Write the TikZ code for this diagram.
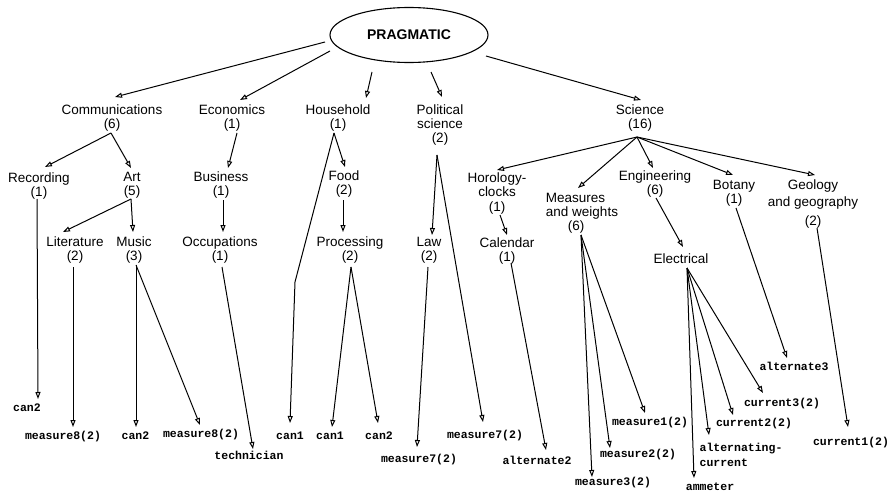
\documentclass[tikz,border=0pt]{standalone}
\usepackage{fontspec}
\setmainfont{Liberation Sans}
\setmonofont{Liberation Mono}
\usetikzlibrary{arrows.meta,shapes.geometric}
\tikzset{
  lbl/.style={font=\fontsize{13.5}{14}\selectfont, align=center, inner sep=1pt},
  leaf/.style={font=\fontsize{11.5}{14}\selectfont\ttfamily\bfseries, inner sep=1pt, text height=7pt, text depth=1.5pt},
  arr/.style={line width=1pt, -{Triangle[open,length=7pt,width=5pt]}},
}
\begin{document}
\begin{tikzpicture}[x=1pt,y=-1pt]
\fill[white] (0,0) rectangle (889,495);
\useasboundingbox (0,0) rectangle (889,495);
% root
\node[ellipse, draw, line width=1.1pt, minimum width=158pt, minimum height=55pt, inner sep=0pt,
      font=\fontsize{14}{16}\selectfont\bfseries] (prag) at (409,35) {PRAGMATIC};
% level 1
\node[lbl] (comm)  at (112,118) {Communications\\(6)};
\node[lbl] (econ)  at (232,118) {Economics\\(1)};
\node[lbl] (house) at (338,118) {Household\\(1)};
\node[lbl] (pol)   at (440,125) {Political\\science\\(2)};
\node[lbl] (sci)   at (640,118) {Science\\(16)};
% level 2
\node[lbl] (rec)  at (39,186)  {Recording\\(1)};
\node[lbl] (art)  at (132,185) {Art\\(5)};
\node[lbl] (bus)  at (221,185) {Business\\(1)};
\node[lbl] (food) at (344,184) {Food\\(2)};
\node[lbl] (horo) at (497,194) {Horology-\\clocks\\[1pt](1)};
\node[lbl, align=left] (meas) at (582,213) {Measures\\and weights\\\hspace*{22pt}(6)};
\node[lbl] (eng)  at (655,184) {Engineering\\(6)};
\node[lbl] (bot)  at (734,193) {Botany\\(1)};
\node[lbl] (geo)  at (813,204) {Geology\\[3pt]and geography\\[5pt](2)};
% level 3
\node[lbl] (lit)  at (75,250)  {Literature\\(2)};
\node[lbl] (mus)  at (134,250) {Music\\(3)};
\node[lbl] (occ)  at (220,250) {Occupations\\(1)};
\node[lbl] (proc) at (350,250) {Processing\\(2)};
\node[lbl] (law)  at (429,250) {Law\\(2)};
\node[lbl] (cal)  at (507,251) {Calendar\\(1)};
\node[lbl] (elec) at (681,259) {Electrical};
% leaves
\node[leaf] (rcan2)  at (27,409)  {can2};
\node[leaf] (lm8)    at (63,437)  {measure8(2)};
\node[leaf] (mcan2)  at (135.5,437) {can2};
\node[leaf] (mm8)    at (201,435) {measure8(2)};
\node[leaf] (tech)   at (249,457) {technician};
\node[leaf] (hcan1)  at (290,437) {can1};
\node[leaf] (pcan1)  at (330,437) {can1};
\node[leaf] (pcan2)  at (379,437) {can2};
\node[leaf] (lm7)    at (419,460) {measure7(2)};
\node[leaf] (pm7)    at (485,436) {measure7(2)};
\node[leaf] (alt2)   at (537,462) {alternate2};
\node[leaf] (m3)     at (613,483) {measure3(2)};
\node[leaf] (m2)     at (638,455) {measure2(2)};
\node[leaf] (m1)     at (650,423) {measure1(2)};
\node[leaf] (amm)    at (710,488) {ammeter};
\node[font=\fontsize{11.5}{14.5}\selectfont\ttfamily\bfseries, inner sep=1pt, align=left] (ac) at (741,455) {alternating-\\current};
\node[leaf] (c2)     at (754,424) {current2(2)};
\node[leaf] (c3)     at (782,404) {current3(2)};
\node[leaf] (alt3)   at (794,368) {alternate3};
\node[leaf] (c1)     at (851,443) {current1(2)};
\coordinate (hk) at (295,282);
% edges from root
\draw[arr] ([shift={(-84,7)}]prag.center) -- ([shift={(3,-21)}]comm.center);
\draw[arr] ([shift={(-79,16)}]prag.center) -- ([shift={(8,-18)}]econ.center);
\draw[arr] ([shift={(-37,37)}]prag.center) -- ([shift={(28,-20)}]house.center);
\draw[arr] ([shift={(22,37)}]prag.center) -- ([shift={(2,-28)}]pol.center);
\draw[arr] ([shift={(77,21)}]prag.center) -- ([shift={(1,-18)}]sci.center);
% communications
\draw[arr] ([shift={(-1,15)}]comm.center) -- ([shift={(6,-19)}]rec.center);
\draw[arr] ([shift={(-1,15)}]comm.center) -- ([shift={(-1,-17)}]art.center);
\draw[arr] ([shift={(-1,14)}]art.center) -- ([shift={(-12,-18)}]lit.center);
\draw[arr] ([shift={(-1,14)}]art.center) -- ([shift={(-1,-18)}]mus.center);
\draw[arr] ([shift={(-2,13)}]rec.center) -- ([shift={(11,-10)}]rcan2.center);
\draw[arr] ([shift={(-2,17)}]lit.center) -- ([shift={(10,-10)}]lm8.center);
\draw[arr] ([shift={(2,15)}]mus.center) -- ([shift={(0.5,-10)}]mcan2.center);
\draw[arr] ([shift={(2,15)}]mus.center) -- ([shift={(-1,-10)}]mm8.center);
% economics
\draw[arr] ([shift={(5,15)}]econ.center) -- ([shift={(7,-17)}]bus.center);
\draw[arr] ([shift={(2,15)}]bus.center) -- ([shift={(3,-18)}]occ.center);
\draw[arr] ([shift={(2,17)}]occ.center) -- ([shift={(4,-8)}]tech.center);
% household
\draw[arr] ([shift={(-4,15)}]house.center) -- ([shift={(1,-17)}]food.center);
\draw[arr] ([shift={(-4,15)}]house.center) -- (hk) -- ([shift={(0,-14)}]hcan1.center);
\draw[arr] ([shift={(-1,16)}]food.center) -- ([shift={(-7,-18)}]proc.center);
\draw[arr] ([shift={(1,17)}]proc.center) -- ([shift={(2,-10)}]pcan1.center);
\draw[arr] ([shift={(1,17)}]proc.center) -- ([shift={(-1,-14)}]pcan2.center);
% political science
\draw[arr] ([shift={(-3,30)}]pol.center) -- ([shift={(3,-15)}]law.center);
\draw[arr] ([shift={(-3,30)}]pol.center) -- ([shift={(-2,-14)}]pm7.center);
\draw[arr] ([shift={(-1,17)}]law.center) -- ([shift={(-2,-13)}]lm7.center);
% science
\draw[arr] ([shift={(-3,19)}]sci.center) -- ([shift={(0,-24)}]horo.center);
\draw[arr] ([shift={(-3,19)}]sci.center) -- ([shift={(-4,-25)}]meas.center);
\draw[arr] ([shift={(-3,19)}]sci.center) -- ([shift={(-2,-16)}]eng.center);
\draw[arr] ([shift={(-3,19)}]sci.center) -- ([shift={(-1,-18)}]bot.center);
\draw[arr] ([shift={(-3,19)}]sci.center) -- ([shift={(2,-29)}]geo.center);
\draw[arr] ([shift={(3,21)}]horo.center) -- ([shift={(0,-16)}]cal.center);
\draw[arr] ([shift={(4,12)}]cal.center) -- ([shift={(9,-12)}]alt2.center);
\draw[arr] ([shift={(-1,22)}]meas.center) -- ([shift={(-21,-6)}]m3.center);
\draw[arr] ([shift={(-1,22)}]meas.center) -- ([shift={(-28,-7)}]m2.center);
\draw[arr] ([shift={(-1,22)}]meas.center) -- ([shift={(-5,-10)}]m1.center);
\draw[arr] ([shift={(1,14)}]eng.center) -- ([shift={(2,-12)}]elec.center);
\draw[arr] ([shift={(6,9)}]elec.center) -- ([shift={(-16,-10)}]amm.center);
\draw[arr] ([shift={(6,9)}]elec.center) -- ([shift={(-32,-20)}]ac.center);
\draw[arr] ([shift={(6,9)}]elec.center) -- ([shift={(-21,-9)}]c2.center);
\draw[arr] ([shift={(6,9)}]elec.center) -- ([shift={(-19,-11)}]c3.center);
\draw[arr] ([shift={(2,15)}]bot.center) -- ([shift={(-7,-10)}]alt3.center);
\draw[arr] ([shift={(4,24)}]geo.center) -- ([shift={(-3,-16)}]c1.center);
\end{tikzpicture}
\end{document}
